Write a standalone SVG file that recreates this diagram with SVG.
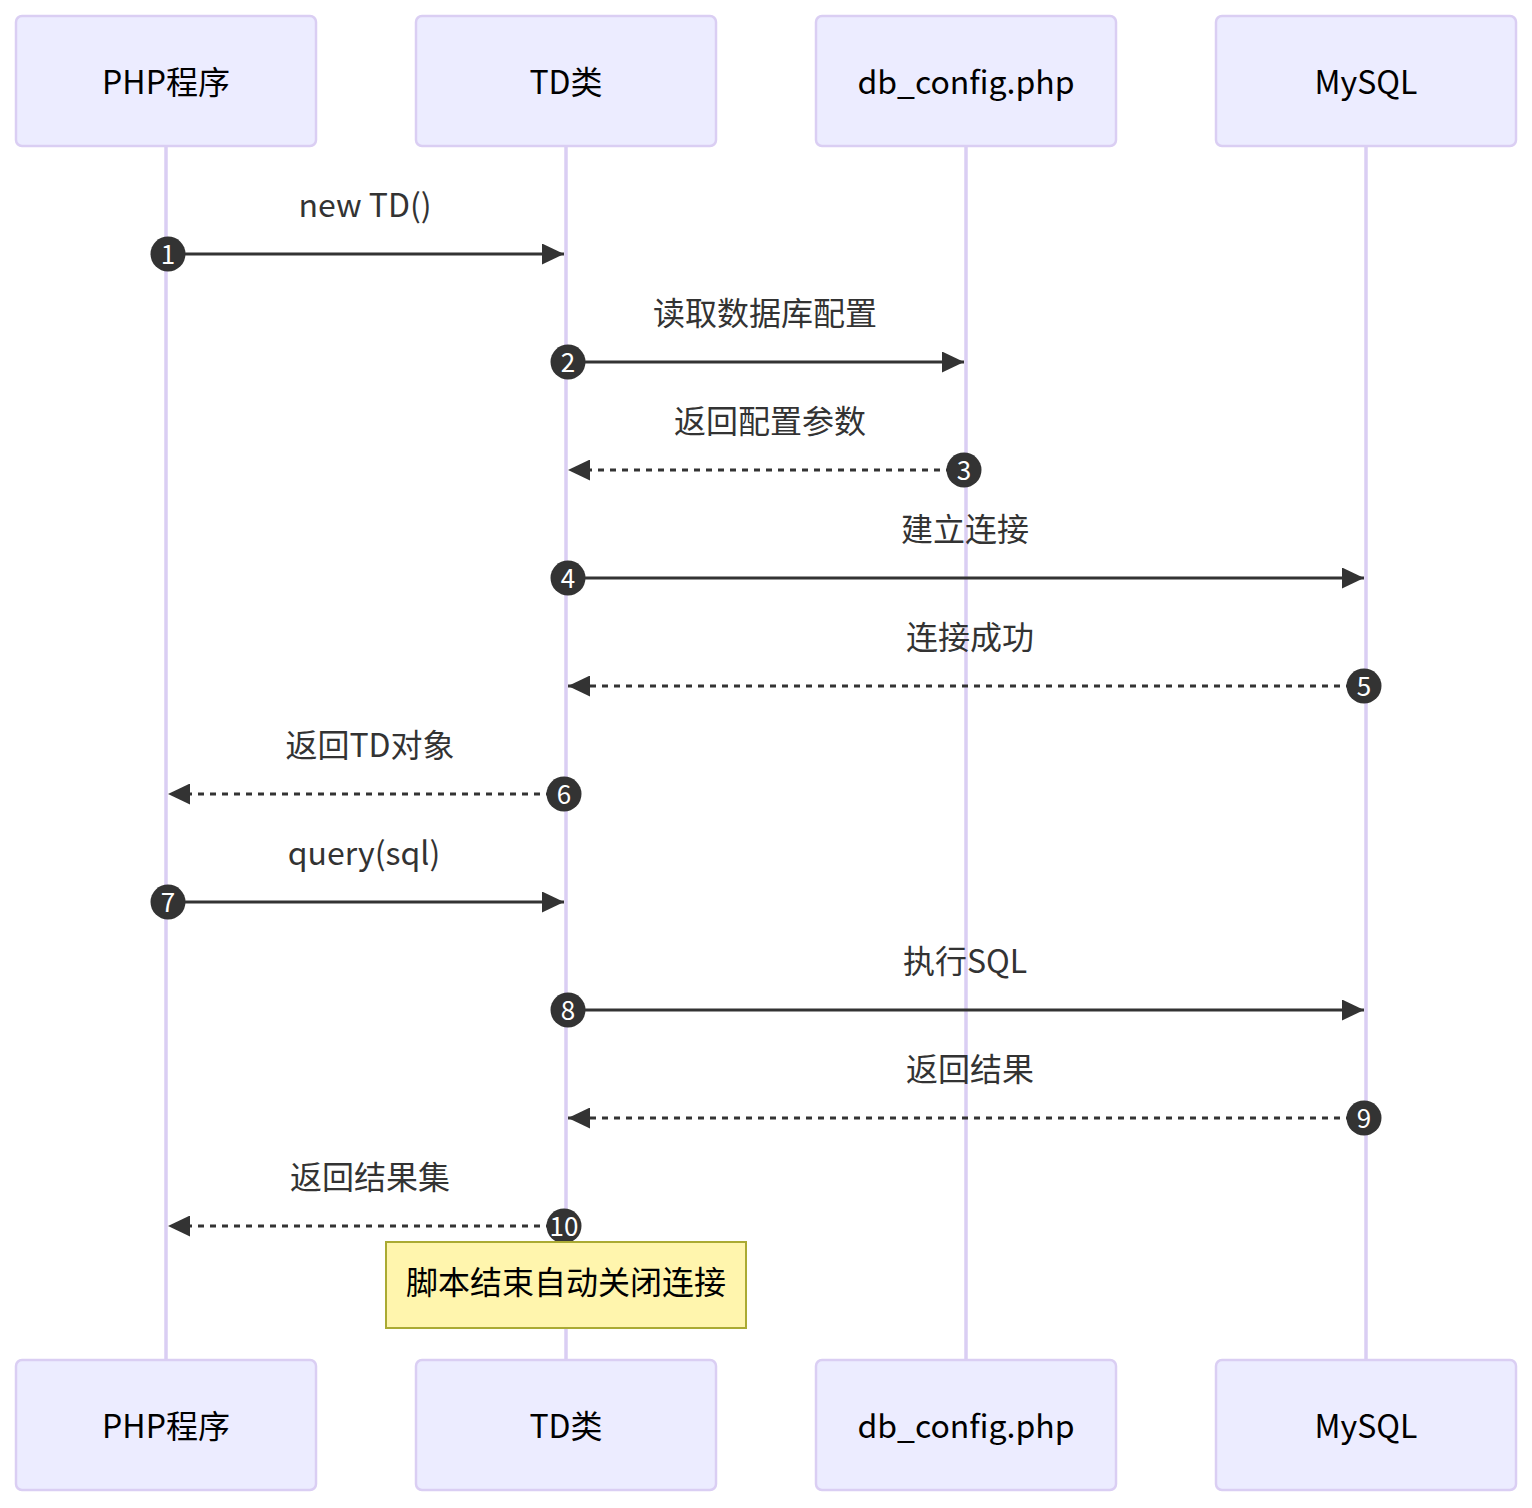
<svg xmlns="http://www.w3.org/2000/svg" width="1532" height="1508" viewBox="0 0 1532 1508">
<defs>
<style>
text{font-family:"Noto Sans CJK SC","Noto Sans",sans-serif;}
.actor rect{fill:#ECECFF;stroke:#DACEF3;stroke-width:2.5;}
.actor text{font-size:32px;fill:#000;text-anchor:middle;dominant-baseline:central;}
.life{stroke:#DACEF3;stroke-width:3.5;}
.msg{stroke:#333;stroke-width:3;fill:none;}
.dash{stroke-dasharray:6,6;}
.lbl{font-size:32px;fill:#333;text-anchor:middle;dominant-baseline:central;}
.num circle{fill:#333;}
.num text{font-size:26px;fill:#fff;text-anchor:middle;dominant-baseline:central;}
.note rect{fill:#FFF5AD;stroke:#AAAA33;stroke-width:2;}
.note text{font-size:32px;fill:#000;text-anchor:middle;dominant-baseline:central;}
</style>
<marker id="ah" viewBox="0 0 22 21" refX="22" refY="10.5" markerWidth="22" markerHeight="21" markerUnits="userSpaceOnUse" orient="auto">
<path d="M0,0 L22,10.5 L0,21 Z" fill="#333"/>
</marker>
</defs>
<rect width="1532" height="1508" fill="#fff"/>
<g id="lifelines">
<line class="life" x1="166" y1="146" x2="166" y2="1360"/>
<line class="life" x1="566" y1="146" x2="566" y2="1360"/>
<line class="life" x1="966" y1="146" x2="966" y2="1360"/>
<line class="life" x1="1366" y1="146" x2="1366" y2="1360"/>
</g>
<g id="actor-php-top" class="actor"><rect x="16" y="16" width="300" height="130" rx="6"/><text x="166" y="80">PHP程序</text></g>
<g id="actor-td-top" class="actor"><rect x="416" y="16" width="300" height="130" rx="6"/><text x="566" y="80">TD类</text></g>
<g id="actor-db-top" class="actor"><rect x="816" y="16" width="300" height="130" rx="6"/><text x="966" y="80">db_config.php</text></g>
<g id="actor-mysql-top" class="actor"><rect x="1216" y="16" width="300" height="130" rx="6"/><text x="1366" y="80">MySQL</text></g>
<g id="actor-php-bottom" class="actor"><rect x="16" y="1360" width="300" height="130" rx="6"/><text x="166" y="1424">PHP程序</text></g>
<g id="actor-td-bottom" class="actor"><rect x="416" y="1360" width="300" height="130" rx="6"/><text x="566" y="1424">TD类</text></g>
<g id="actor-db-bottom" class="actor"><rect x="816" y="1360" width="300" height="130" rx="6"/><text x="966" y="1424">db_config.php</text></g>
<g id="actor-mysql-bottom" class="actor"><rect x="1216" y="1360" width="300" height="130" rx="6"/><text x="1366" y="1424">MySQL</text></g>
<g id="connectors">
<line class="msg" x1="168" y1="254" x2="564" y2="254" marker-end="url(#ah)"/>
<line class="msg" x1="568" y1="362" x2="964" y2="362" marker-end="url(#ah)"/>
<line class="msg dash" x1="964" y1="470" x2="568" y2="470" marker-end="url(#ah)"/>
<line class="msg" x1="568" y1="578" x2="1364" y2="578" marker-end="url(#ah)"/>
<line class="msg dash" x1="1364" y1="686" x2="568" y2="686" marker-end="url(#ah)"/>
<line class="msg dash" x1="564" y1="794" x2="168" y2="794" marker-end="url(#ah)"/>
<line class="msg" x1="168" y1="902" x2="564" y2="902" marker-end="url(#ah)"/>
<line class="msg" x1="568" y1="1010" x2="1364" y2="1010" marker-end="url(#ah)"/>
<line class="msg dash" x1="1364" y1="1118" x2="568" y2="1118" marker-end="url(#ah)"/>
<line class="msg dash" x1="564" y1="1226" x2="168" y2="1226" marker-end="url(#ah)"/>
</g>
<g id="labels">
<text class="lbl" x="365" y="203">new TD()</text>
<text class="lbl" x="765" y="311">读取数据库配置</text>
<text class="lbl" x="770" y="419">返回配置参数</text>
<text class="lbl" x="965" y="527">建立连接</text>
<text class="lbl" x="970" y="635">连接成功</text>
<text class="lbl" x="370" y="743">返回TD对象</text>
<text class="lbl" x="364" y="851">query(sql)</text>
<text class="lbl" x="965" y="959">执行SQL</text>
<text class="lbl" x="970" y="1067">返回结果</text>
<text class="lbl" x="370" y="1175">返回结果集</text>
</g>
<g id="numbers" class="num">
<g><circle cx="168" cy="254" r="17.5"/><text x="168" y="252">1</text></g>
<g><circle cx="568" cy="362" r="17.5"/><text x="568" y="360">2</text></g>
<g><circle cx="964" cy="470" r="17.5"/><text x="964" y="468">3</text></g>
<g><circle cx="568" cy="578" r="17.5"/><text x="568" y="576">4</text></g>
<g><circle cx="1364" cy="686" r="17.5"/><text x="1364" y="684">5</text></g>
<g><circle cx="564" cy="794" r="17.5"/><text x="564" y="792">6</text></g>
<g><circle cx="168" cy="902" r="17.5"/><text x="168" y="900">7</text></g>
<g><circle cx="568" cy="1010" r="17.5"/><text x="568" y="1008">8</text></g>
<g><circle cx="1364" cy="1118" r="17.5"/><text x="1364" y="1116">9</text></g>
<g><circle cx="564" cy="1226" r="17.5"/><text x="564" y="1224">10</text></g>
</g>
<g id="note" class="note"><rect x="386" y="1242" width="360" height="86"/><text x="566" y="1280">脚本结束自动关闭连接</text></g>
</svg>
